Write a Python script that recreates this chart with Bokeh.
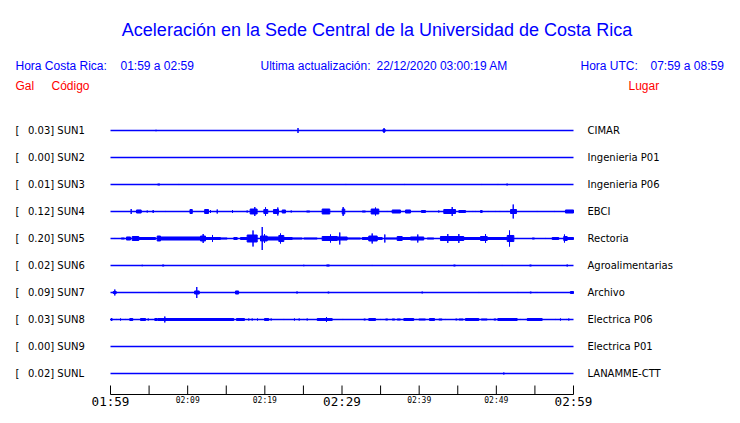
from bokeh.plotting import figure
from bokeh.models import Range1d
from bokeh.core.properties import value
from bokeh.embed import file_html
from bokeh.resources import INLINE

# ---------------- data ----------------
codes = ["SUN1", "SUN2", "SUN3", "SUN4", "SUN5", "SUN6", "SUN7", "SUN8", "SUN9", "SUNL"]
places = ["CIMAR", "Ingenieria P01", "Ingenieria P06", "EBCI", "Rectoria",
          "Agroalimentarias", "Archivo", "Electrica P06", "Electrica P01", "LANAMME-CTT"]
peaks_gal = [0.03, 0.00, 0.01, 0.12, 0.20, 0.02, 0.09, 0.03, 0.00, 0.02]

# bursts: (start minute after 01:59, end minute, half amplitude in Gal)
sun1 = [(5.9, 5.9, 0.02), (23.4, 23.4, 0.017), (24.3, 24.3, 0.05), (35.3, 35.6, 0.033), (35.45, 35.45, 0.05)]
sun2 = []
sun3 = [(6.1, 6.4, 0.025), (8.85, 8.85, 0.017), (30.5, 30.5, 0.017), (38.1, 38.1, 0.017),
        (48.1, 48.1, 0.017), (50.2, 50.2, 0.017), (51.3, 51.5, 0.025)]
sun4 = [(2.68, 2.68, 0.05), (3.37, 3.98, 0.042), (4.76, 4.76, 0.025), (5.53, 5.53, 0.033), (7.13, 7.13, 0.017),
        (10.3, 10.6, 0.05), (12.2, 12.7, 0.05), (12.96, 12.96, 0.033), (13.83, 13.83, 0.042), (15.81, 15.81, 0.033),
        (17.71, 17.71, 0.025), (18.1, 19.0, 0.058), (18.7, 18.7, 0.083), (19.87, 20.38, 0.05), (20.09, 20.09, 0.078),
        (21.12, 21.77, 0.05), (21.68, 21.68, 0.075), (22.25, 22.68, 0.042), (23.42, 23.42, 0.025),
        (25.4, 25.83, 0.025), (27.43, 28.42, 0.058), (30.03, 30.36, 0.058), (30.15, 30.15, 0.083),
        (32.62, 33.05, 0.025), (33.78, 34.77, 0.058), (34.34, 34.34, 0.075), (35.86, 35.86, 0.017),
        (36.5, 37.58, 0.042), (38.23, 38.88, 0.042), (40.3, 40.82, 0.033), (42.54, 42.54, 0.025),
        (43.19, 44.71, 0.05), (44.28, 44.28, 0.083), (45.14, 46.01, 0.033), (46.48, 46.48, 0.017),
        (46.95, 46.95, 0.017), (47.3, 47.3, 0.017), (47.95, 48.17, 0.033), (48.95, 48.95, 0.017),
        (49.89, 49.89, 0.017), (50.45, 50.45, 0.017), (51.41, 51.41, 0.017), (51.84, 52.61, 0.05),
        (52.19, 52.19, 0.125), (55.29, 55.29, 0.017), (57.54, 57.54, 0.017), (58.96, 60.0, 0.042)]
sun5 = [(0.56, 0.56, 0.017), (1.39, 1.81, 0.025), (2.07, 2.59, 0.042), (2.81, 3.67, 0.05), (3.67, 5.83, 0.033),
        (6.05, 6.48, 0.058), (6.48, 11.66, 0.042), (11.66, 12.31, 0.058), (12.01, 12.01, 0.083),
        (12.31, 14.25, 0.033), (13.22, 13.22, 0.067), (14.25, 15.12, 0.025), (15.98, 16.42, 0.033),
        (16.85, 17.71, 0.033), (17.71, 19.01, 0.075), (18.47, 18.47, 0.142), (19.66, 19.66, 0.20),
        (19.44, 20.31, 0.058), (19.96, 19.96, 0.083), (20.31, 21.81, 0.042), (21.81, 22.46, 0.067),
        (22.03, 22.03, 0.092), (22.46, 23.55, 0.033), (23.55, 24.84, 0.025), (25.05, 26.79, 0.025),
        (27.43, 29.38, 0.05), (28.51, 28.51, 0.075), (29.71, 29.71, 0.108), (29.38, 30.67, 0.042),
        (30.67, 32.4, 0.025), (32.62, 33.47, 0.033), (33.47, 34.56, 0.058), (33.91, 33.91, 0.092),
        (34.56, 35.21, 0.033), (35.55, 35.55, 0.075), (35.64, 37.15, 0.025), (37.15, 37.8, 0.05),
        (37.8, 38.88, 0.033), (38.88, 40.6, 0.042), (39.82, 39.82, 0.075), (41.04, 41.9, 0.025),
        (42.76, 45.78, 0.05), (43.71, 43.71, 0.083), (45.14, 45.14, 0.083), (45.78, 47.95, 0.033),
        (47.95, 48.82, 0.05), (48.6, 48.6, 0.083), (48.82, 51.41, 0.033), (51.41, 52.27, 0.067),
        (51.71, 51.71, 0.142), (52.7, 52.7, 0.017), (54.65, 54.95, 0.025), (56.37, 56.37, 0.017),
        (57.24, 58.09, 0.033), (58.74, 59.18, 0.05), (58.83, 58.83, 0.075), (59.18, 60.0, 0.033)]
sun6 = [(4.11, 4.11, 0.02), (6.7, 6.95, 0.025), (25.05, 25.05, 0.02), (28.08, 28.08, 0.025),
        (28.29, 28.29, 0.025), (33.91, 33.91, 0.017), (44.45, 44.7, 0.025), (50.76, 50.76, 0.017),
        (54.3, 54.55, 0.025), (59.18, 59.18, 0.025)]
sun7 = [(0.35, 0.75, 0.033), (0.56, 0.56, 0.058), (6.26, 6.26, 0.017), (10.59, 10.59, 0.017),
        (10.9, 11.5, 0.042), (11.18, 11.18, 0.1), (16.2, 16.6, 0.042), (24.05, 24.3, 0.025),
        (28.15, 28.35, 0.025), (40.3, 40.5, 0.025), (47.73, 47.73, 0.017), (52.78, 52.78, 0.017),
        (54.35, 54.55, 0.025), (55.11, 55.11, 0.017), (55.29, 55.29, 0.017), (59.6, 60.0, 0.033)]
sun8 = [(0.0, 0.3, 0.017), (0.13, 0.13, 0.033), (0.78, 0.78, 0.017), (1.3, 1.3, 0.025), (1.94, 1.94, 0.017),
        (2.5, 2.89, 0.033), (3.89, 4.54, 0.033), (4.89, 4.89, 0.025), (5.4, 5.4, 0.017), (5.74, 6.05, 0.033),
        (6.13, 15.98, 0.033), (7.04, 7.04, 0.058), (16.33, 17.36, 0.033), (17.92, 17.92, 0.025),
        (18.36, 18.36, 0.025), (18.66, 18.66, 0.017), (19.05, 19.05, 0.025), (19.96, 20.51, 0.033),
        (20.82, 20.82, 0.025), (22.46, 22.46, 0.017), (23.84, 23.84, 0.025), (24.45, 24.45, 0.025),
        (25.05, 25.05, 0.017), (25.49, 25.49, 0.025), (26.79, 28.73, 0.033), (27.99, 27.99, 0.05),
        (30.1, 30.1, 0.017), (32.82, 33.05, 0.025), (33.47, 34.34, 0.033), (34.99, 34.99, 0.017),
        (35.64, 35.93, 0.025), (36.5, 36.84, 0.025), (37.15, 37.58, 0.025), (38.01, 39.3, 0.033),
        (39.65, 39.65, 0.017), (39.95, 40.82, 0.025), (41.34, 41.99, 0.033), (42.54, 42.98, 0.025),
        (43.41, 43.41, 0.017), (44.71, 44.93, 0.025), (45.14, 45.71, 0.025), (46.0, 47.73, 0.033),
        (48.04, 48.82, 0.025), (49.24, 49.24, 0.017), (49.67, 49.98, 0.025), (50.19, 52.7, 0.033),
        (53.13, 53.13, 0.017), (53.78, 53.78, 0.017), (54.0, 55.94, 0.033), (57.67, 57.67, 0.017),
        (58.31, 58.31, 0.025), (59.09, 59.09, 0.017), (59.39, 59.39, 0.025)]
sun9 = []
sunl = [(50.97, 50.97, 0.025)]
bursts = [sun1, sun2, sun3, sun4, sun5, sun6, sun7, sun8, sun9, sunl]

tick_minutes = [0, 5, 10, 15, 20, 25, 30, 35, 40, 45, 50, 55, 60]
label_minutes = [0, 10, 20, 30, 40, 50, 60]
label_texts = ["01:59", "02:09", "02:19", "02:29", "02:39", "02:49", "02:59"]
label_big = [True, False, False, True, False, False, True]

title = "Aceleración en la Sede Central de la Universidad de Costa Rica"

# ---------------- layout helpers (picture pixels -> data coords) ----------------
PX_PER_MIN = 463 / 60.0
ROW_PX = 27.0
GAL_TO_ROW = 60.0 / ROW_PX
W, H = 724, 407


def X(px):
    return (px - 110) / PX_PER_MIN


def Y(py):
    return (py - 130) / ROW_PX


BLUE = "#0000ff"
RED = "#ff0000"

p = figure(width=W, height=H, output_backend="svg", toolbar_location=None,
           x_range=Range1d(X(0), X(W)), y_range=Range1d(Y(H), Y(0)),
           x_axis_type=None, y_axis_type=None, min_border=0, outline_line_color=None)
p.xgrid.visible = False
p.ygrid.visible = False
p.background_fill_color = "white"
p.border_fill_color = "white"

rows = list(range(len(codes)))

# baselines
p.segment(x0=[0] * len(rows), x1=[60] * len(rows), y0=rows, y1=rows, line_color=BLUE, line_width=1.3)

# bursts
L, R, T, B = [], [], [], []
for r, bl in zip(rows, bursts):
    for (t0, t1, a) in bl:
        shrink = 1.0 if t1 > t0 else 0.5
        h = max(a * GAL_TO_ROW - shrink / ROW_PX, 0.5 / ROW_PX)
        L.append(t0); R.append(t1); T.append(r - h); B.append(r + h)
p.quad(left=L, right=R, top=T, bottom=B, fill_color=BLUE, line_color=BLUE, line_width=1)

# left / right labels
val_txt = ["%.2f] %s" % (v, c) for v, c in zip(peaks_gal, codes)]
p.text(x=[X(15)] * len(rows), y=rows, text=["["] * len(rows), text_font=value("DejaVu Sans"),
       text_font_size="10px", text_color="black", text_baseline="middle", text_align="left")
p.text(x=[X(27.5)] * len(rows), y=rows, text=val_txt, text_font=value("DejaVu Sans"),
       text_font_size="10px", text_color="black", text_baseline="middle", text_align="left")
p.text(x=[X(587)] * len(rows), y=rows, text=places, text_font=value("DejaVu Sans"),
       text_font_size="10px", text_color="black", text_baseline="middle", text_align="left")

# header
p.text(x=[X(376.5)], y=[Y(29.5)], text=[title], text_font=value("Liberation Sans"),
       text_font_size="18px", text_color=BLUE, text_align="center", text_baseline="alphabetic")
hdr_x = [X(15), X(120), X(260), X(376), X(580), X(650)]
hdr_t = ["Hora Costa Rica:", "01:59 a 02:59", "Ultima actualización:", "22/12/2020 03:00:19 AM",
         "Hora UTC:", "07:59 a 08:59"]
p.text(x=hdr_x, y=[Y(65.5)] * len(hdr_x), text=hdr_t, text_font=value("Liberation Sans"),
       text_font_size="12px", text_color=BLUE, text_align="left", text_baseline="alphabetic")
p.text(x=[X(15), X(51), X(628)], y=[Y(85.5)] * 3, text=["Gal", "Código", "Lugar"],
       text_font=value("Liberation Sans"), text_font_size="12px", text_color=RED,
       text_align="left", text_baseline="alphabetic")

# time axis (squeezed to fit the 407px canvas)
ax_y = Y(394)
p.segment(x0=[0], x1=[60], y0=[ax_y], y1=[ax_y], line_color="black", line_width=1)
p.segment(x0=tick_minutes, x1=tick_minutes, y0=[Y(385)] * len(tick_minutes),
          y1=[ax_y] * len(tick_minutes), line_color="black", line_width=1)
bx = [m for m, b in zip(label_minutes, label_big) if b]
bt = [t for t, b in zip(label_texts, label_big) if b]
sx = [m for m, b in zip(label_minutes, label_big) if not b]
st = [t for t, b in zip(label_texts, label_big) if not b]
p.text(x=bx, y=[Y(400.5)] * len(bx), text=bt, text_font=value("DejaVu Sans Mono"),
       text_font_size="12.6px", text_color="black", text_align="center", text_baseline="middle")
p.text(x=sx, y=[Y(399.5)] * len(sx), text=st, text_font=value("DejaVu Sans Mono"),
       text_font_size="8px", text_color="black", text_align="center", text_baseline="middle")

open("out.html", "w").write(file_html(p, INLINE))
